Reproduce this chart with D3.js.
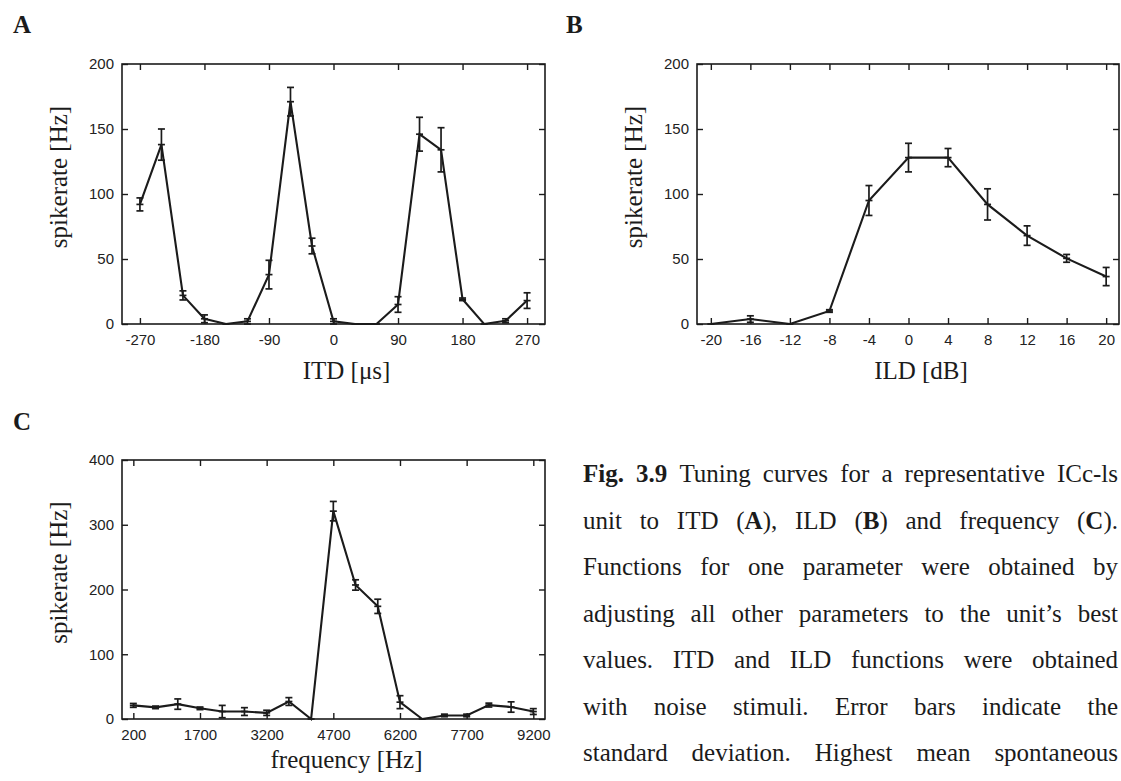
<!DOCTYPE html>
<html>
<head>
<meta charset="utf-8">
<script src="https://cdn.jsdelivr.net/npm/d3@7"></script>
<style>
  body { margin: 0; background: #fff; }
  svg { display: block; }
</style>
</head>
<body>
<script>
// ITD tuning (panel A)
var itdValues = [-270, -240, -210, -180, -150, -120, -90, -60, -30, 0, 30, 60, 90, 120, 150, 180, 210, 240, 270];
var itdMean = [92, 138, 22, 4, 0, 2, 38, 171, 60, 2, 0, 0, 15, 146, 134, 19, 0, 2.5, 18];
var itdSd = [5, 12, 3.5, 3, 0, 2, 11, 11, 6, 2, 0, 0, 6, 13, 17, 1, 0, 1.5, 6];
var itdTicks = [-270, -180, -90, 0, 90, 180, 270];

// ILD tuning (panel B)
var ildValues = [-20, -16, -12, -8, -4, 0, 4, 8, 12, 16, 20];
var ildMean = [0, 3.8, 0, 10, 95, 128, 128, 92, 68, 50.5, 36.5];
var ildSd = [0, 2.5, 0, 1, 11.5, 11, 7, 12, 7.5, 3, 7];
var ildTicks = [-20, -16, -12, -8, -4, 0, 4, 8, 12, 16, 20];

// frequency tuning (panel C)
var freqValues = [200, 700, 1200, 1700, 2200, 2700, 3200, 3700, 4200, 4700, 5200, 5700, 6200, 6700, 7200, 7700, 8200, 8700, 9200];
var freqMean = [21, 18, 23, 16.5, 11.5, 11.5, 9.5, 27, 0, 321, 207, 174, 26, 0, 5.5, 5.5, 21.5, 18.5, 11.5];
var freqSd = [3, 2, 8, 2, 9.5, 6, 4, 6, 0, 15, 8, 11, 10, 0, 2, 2, 3, 8, 4.5];
var freqTicks = [200, 1700, 3200, 4700, 6200, 7700, 9200];

var rateTicks200 = [0, 50, 100, 150, 200];
var rateTicks400 = [0, 100, 200, 300, 400];

// *...* marks bold, per word
var captionLines = [
  "*Fig.* *3.9* Tuning curves for a representative ICc-ls",
  "unit to ITD (*A*), ILD (*B*) and frequency (*C*).",
  "Functions for one parameter were obtained by",
  "adjusting all other parameters to the unit\u2019s best",
  "values. ITD and ILD functions were obtained",
  "with noise stimuli. Error bars indicate the",
  "standard deviation. Highest mean spontaneous"
];

var ink = "#1b1b1b";
var svg = d3.select("body").append("svg")
    .attr("width", 1121)
    .attr("height", 781);

function drawPanel(p) {
    var x = d3.scaleLinear().domain(p.xDomain).range([p.left, p.right]);
    var y = d3.scaleLinear().domain(p.yDomain).range([p.bottom, p.top]);
    var g = svg.append("g");
    var fmt = function(d) { return String(d); };

    var axes = [
        [d3.axisBottom(x).tickValues(p.xTicks).tickFormat(fmt).tickSizeInner(-6).tickSizeOuter(0).tickPadding(10), p.bottom, 0],
        [d3.axisTop(x).tickValues(p.xTicks).tickFormat("").tickSizeInner(-6).tickSizeOuter(0), p.top, 0],
        [d3.axisLeft(y).tickValues(p.yTicks).tickFormat(fmt).tickSizeInner(-6).tickSizeOuter(0).tickPadding(8), 0, p.left],
        [d3.axisRight(y).tickValues(p.yTicks).tickFormat("").tickSizeInner(-6).tickSizeOuter(0), 0, p.right]
    ];
    axes.forEach(function(a) {
        var ag = g.append("g")
            .attr("transform", "translate(" + a[2] + "," + a[1] + ")")
            .call(a[0]);
        ag.select(".domain").remove();
        ag.selectAll(".tick line").attr("stroke", ink).attr("stroke-width", 1.4);
        ag.selectAll(".tick text")
            .attr("fill", "#222")
            .style("font-family", "'Liberation Sans', Arial, sans-serif")
            .style("font-size", "15px");
    });

    g.append("rect")
        .attr("x", p.left).attr("y", p.top)
        .attr("width", p.right - p.left).attr("height", p.bottom - p.top)
        .attr("fill", "none").attr("stroke", ink).attr("stroke-width", 1.6);

    var pts = p.xs.map(function(v, i) { return { x: v, m: p.mean[i], s: p.sd[i] }; });

    var line = d3.line()
        .x(function(d) { return x(d.x); })
        .y(function(d) { return y(d.m); });
    g.append("path")
        .attr("d", line(pts))
        .attr("fill", "none")
        .attr("stroke", ink)
        .attr("stroke-width", 2.1);

    var cap = 3.5;
    var eb = g.append("g").attr("stroke", ink).attr("stroke-width", 1.7).attr("fill", "none");
    pts.forEach(function(d) {
        var cx = x(d.x);
        eb.append("line").attr("x1", cx - cap).attr("x2", cx + cap)
            .attr("y1", y(d.m)).attr("y2", y(d.m));
        if (d.s > 0) {
            var y0 = y(Math.max(0, d.m - d.s)), y1 = y(d.m + d.s);
            eb.append("line").attr("x1", cx).attr("x2", cx).attr("y1", y0).attr("y2", y1);
            eb.append("line").attr("x1", cx - cap).attr("x2", cx + cap).attr("y1", y0).attr("y2", y0);
            eb.append("line").attr("x1", cx - cap).attr("x2", cx + cap).attr("y1", y1).attr("y2", y1);
        }
    });

    var serif = "'Liberation Serif', 'Times New Roman', serif";
    g.append("text")
        .attr("x", (p.left + p.right) / 2 + 13)
        .attr("y", p.xTitleY)
        .attr("text-anchor", "middle")
        .attr("fill", ink)
        .style("font-family", serif).style("font-size", "25px")
        .text(p.xTitle);
    g.append("text")
        .attr("transform", "translate(" + (p.left - 55) + "," + ((p.top + p.bottom) / 2 - 17) + ") rotate(-90)")
        .attr("text-anchor", "middle")
        .attr("fill", ink)
        .style("font-family", serif).style("font-size", "25px")
        .text("spikerate [Hz]");
    g.append("text")
        .attr("x", p.letterX).attr("y", p.letterY)
        .attr("fill", ink)
        .style("font-family", serif).style("font-size", "25px").style("font-weight", "bold")
        .text(p.letter);
}

drawPanel({
    letter: "A", letterX: 13, letterY: 33,
    left: 122, right: 545, top: 64, bottom: 324,
    xDomain: [-295, 295], yDomain: [0, 200],
    xTicks: itdTicks, yTicks: rateTicks200,
    xs: itdValues, mean: itdMean, sd: itdSd,
    xTitle: "ITD [\u03bcs]", xTitleY: 379
});

drawPanel({
    letter: "B", letterX: 566, letterY: 33,
    left: 697, right: 1119, top: 64, bottom: 324,
    xDomain: [-21.4, 21.3], yDomain: [0, 200],
    xTicks: ildTicks, yTicks: rateTicks200,
    xs: ildValues, mean: ildMean, sd: ildSd,
    xTitle: "ILD [dB]", xTitleY: 379
});

drawPanel({
    letter: "C", letterX: 13, letterY: 430,
    left: 122, right: 545, top: 460, bottom: 719,
    xDomain: [-55, 9463], yDomain: [0, 400],
    xTicks: freqTicks, yTicks: rateTicks400,
    xs: freqValues, mean: freqMean, sd: freqSd,
    xTitle: "frequency [Hz]", xTitleY: 768
});

// justified caption, one svg text per word
var capLeft = 583, capRight = 1118, capTop = 482, capStep = 46.5;
var cap = svg.append("g")
    .attr("fill", ink)
    .style("font-family", "'Liberation Serif', 'Times New Roman', serif")
    .style("font-size", "25px");

captionLines.forEach(function(ln, li) {
    var words = ln.split(" ");
    var nodes = words.map(function(w) {
        var t = cap.append("text").attr("y", capTop + li * capStep);
        w.split("*").forEach(function(seg, si) {
            if (seg === "") return;
            t.append("tspan").style("font-weight", si % 2 ? "bold" : "normal").text(seg);
        });
        return t;
    });
    var widths = nodes.map(function(t) { return t.node().getComputedTextLength(); });
    var gap = (capRight - capLeft - d3.sum(widths)) / (words.length - 1);
    var cx = capLeft;
    nodes.forEach(function(t, i) {
        t.attr("x", cx);
        cx += widths[i] + gap;
    });
});
</script>
</body>
</html>
